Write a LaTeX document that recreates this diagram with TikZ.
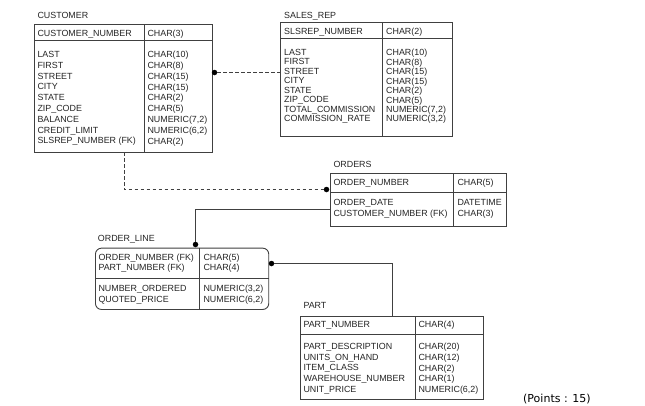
\documentclass[tikz,border=0pt]{standalone}
\usepackage{fontspec}
\setmainfont{Liberation Sans}
\newfontfamily\ptsfont{DejaVu Sans}

\tikzset{
  tbl/.style={draw=black!75, line width=0.9pt, inner sep=0pt, anchor=north west},
  fld/.style={font=\fontsize{8.9}{10.8}\selectfont, text=black!85, inner sep=0pt, align=left},
  ttl/.style={fld, anchor=base west},
  rowsep/.style={draw=black!75, line width=0.9pt},
  dotend/.style={circle, fill=black, inner sep=0pt, minimum size=5.5pt},
  relline/.style={draw=black!75, line width=0.9pt},
  reldash/.style={relline, dash pattern=on 3.5pt off 2.5pt},
}

\begin{document}
\begin{tikzpicture}[x=1pt,y=-1pt]
\useasboundingbox[fill=white] (0,0) rectangle (645,405);

% Customer table
\node[ttl] (cust-t) at (37.3,18.9) {CUSTOMER};
\node[tbl, minimum width=178pt, minimum height=128pt] (cust) at (34,24) {};
\draw[rowsep] ([yshift=-16pt]cust.north west) -- ([yshift=-16pt]cust.north east);
\draw[rowsep] ([xshift=110pt]cust.north west) -- ([xshift=110pt]cust.south west);
\node[ttl] (cust-pk) at (37.3,36.5) {CUSTOMER\_NUMBER};
\node[ttl] (cust-pkt) at (147.3,36.5) {CHAR(3)};
\node[fld, anchor=north west] (cust-f) at (37.3,51.1) {LAST\\FIRST\\STREET\\CITY\\STATE\\ZIP\_CODE\\BALANCE\\CREDIT\_LIMIT\\SLSREP\_NUMBER (FK)};
\node[fld, anchor=north west] (cust-ft) at (147.3,51.1) {CHAR(10)\\CHAR(8)\\CHAR(15)\\CHAR(15)\\CHAR(2)\\CHAR(5)\\NUMERIC(7,2)\\NUMERIC(6,2)\\CHAR(2)};

% Sales rep table
\node[ttl] (srep-t) at (284,18.2) {SALES\_REP};
\node[tbl, minimum width=171.7pt, minimum height=114pt] (srep) at (280,22.3) {};
\draw[rowsep] ([yshift=-16.5pt]srep.north west) -- ([yshift=-16.5pt]srep.north east);
\draw[rowsep] ([xshift=102.7pt]srep.north west) -- ([xshift=102.7pt]srep.south west);
\node[ttl] (srep-pk) at (284,34.9) {SLSREP\_NUMBER};
\node[ttl] (srep-pkt) at (386,34.9) {CHAR(2)};
\node[fld, font=\fontsize{8.9}{9.45}\selectfont, anchor=north west] (srep-f) at (284,49.1) {LAST\\FIRST\\STREET\\CITY\\STATE\\ZIP\_CODE\\TOTAL\_COMMISSION\\COMMISSION\_RATE};
\node[fld, font=\fontsize{8.9}{9.45}\selectfont, anchor=north west] (srep-ft) at (386,49.1) {CHAR(10)\\CHAR(8)\\CHAR(15)\\CHAR(15)\\CHAR(2)\\CHAR(5)\\NUMERIC(7,2)\\NUMERIC(3,2)};

% Orders table
\node[ttl] (ord-t) at (333.3,167.2) {ORDERS};
\node[tbl, minimum width=176pt, minimum height=52.7pt] (ord) at (330,173.3) {};
\draw[rowsep] ([yshift=-19.4pt]ord.north west) -- ([yshift=-19.4pt]ord.north east);
\draw[rowsep] ([xshift=123.3pt]ord.north west) -- ([xshift=123.3pt]ord.south west);
\node[ttl] (ord-pk) at (333.3,185.5) {ORDER\_NUMBER};
\node[ttl] (ord-pkt) at (457.3,185.5) {CHAR(5)};
\node[fld, font=\fontsize{8.9}{11}\selectfont, anchor=north west] (ord-f) at (333.3,199.1) {ORDER\_DATE\\CUSTOMER\_NUMBER (FK)};
\node[fld, font=\fontsize{8.9}{11}\selectfont, anchor=north west] (ord-ft) at (457.3,199.1) {DATETIME\\CHAR(3)};

% Order line table
\node[ttl] (ol-t) at (97.7,241.5) {ORDER\_LINE};
\node[tbl, rounded corners=6pt, minimum width=173.3pt, minimum height=61.3pt] (ol) at (95,247.7) {};
\draw[rowsep] ([yshift=-30.6pt]ol.north west) -- ([yshift=-30.6pt]ol.north east);
\draw[rowsep] ([xshift=104pt]ol.north west) -- ([xshift=104pt]ol.south west);
\node[fld, font=\fontsize{8.9}{10.6}\selectfont, anchor=north west] (ol-pk) at (98.3,253.5) {ORDER\_NUMBER (FK)\\PART\_NUMBER (FK)};
\node[fld, font=\fontsize{8.9}{10.6}\selectfont, anchor=north west] (ol-pkt) at (203.3,253.5) {CHAR(5)\\CHAR(4)};
\node[fld, font=\fontsize{8.9}{10.7}\selectfont, anchor=north west] (ol-f) at (98.3,285.1) {NUMBER\_ORDERED\\QUOTED\_PRICE};
\node[fld, font=\fontsize{8.9}{10.7}\selectfont, anchor=north west] (ol-ft) at (203.3,285.1) {NUMERIC(3,2)\\NUMERIC(6,2)};

% Part table
\node[ttl] (part-t) at (303.3,308.9) {PART};
\node[tbl, minimum width=182.7pt, minimum height=83.3pt] (part) at (300,316) {};
\draw[rowsep] ([yshift=-18.3pt]part.north west) -- ([yshift=-18.3pt]part.north east);
\draw[rowsep] ([xshift=115pt]part.north west) -- ([xshift=115pt]part.south west);
\node[ttl] (part-pk) at (303.3,327.2) {PART\_NUMBER};
\node[ttl] (part-pkt) at (418.3,327.2) {CHAR(4)};
\node[fld, anchor=north west] (part-f) at (303.3,342.8) {PART\_DESCRIPTION\\UNITS\_ON\_HAND\\ITEM\_CLASS\\WAREHOUSE\_NUMBER\\UNIT\_PRICE};
\node[fld, anchor=north west] (part-ft) at (418.3,342.8) {CHAR(20)\\CHAR(12)\\CHAR(2)\\CHAR(1)\\NUMERIC(6,2)};

% Relationships
\node[dotend] (cust-dot) at (214.5,72.5) {};
\draw[reldash] (cust-dot) -- (cust-dot -| srep.west);

\coordinate (cust-fk) at (124,152);
\node[dotend] (ord-dot) at (326.5,189.5) {};
\draw[reldash] (cust-fk) |- (ord-dot);

\coordinate (ord-fk) at (330,209);
\node[dotend] (ol-dot1) at (195.5,244.5) {};
\draw[relline] (ord-fk) -| (ol-dot1);

\coordinate (part-fk) at (392,316);
\node[dotend] (ol-dot2) at (271.5,263.5) {};
\draw[relline] (ol-dot2) -| (part-fk);

% Footer
\node[font=\ptsfont\fontsize{11}{13}\selectfont, anchor=base west, inner sep=0pt] (pts) at (523,402.3) {(Points : 15)};
\end{tikzpicture}
\end{document}
